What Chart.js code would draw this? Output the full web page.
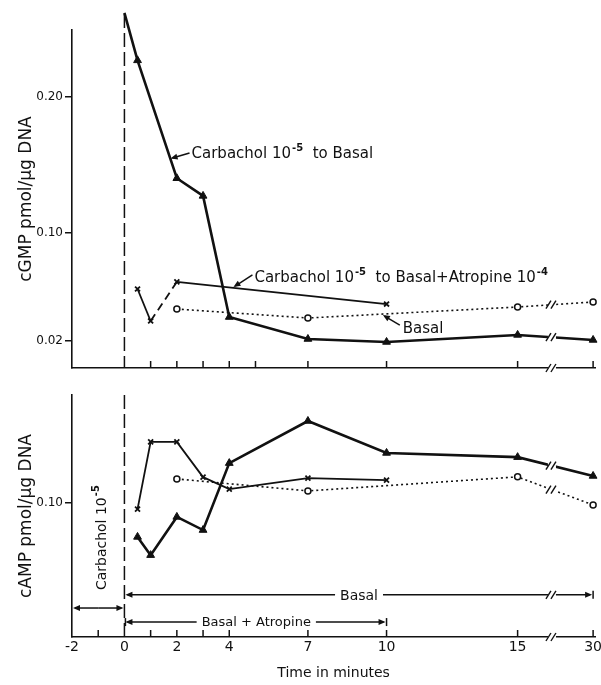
<!DOCTYPE html>
<html>
<head>
<meta charset="utf-8">
<title>cGMP and cAMP time course</title>
<script src="https://cdn.jsdelivr.net/npm/chart.js@4.4.1/dist/chart.umd.min.js"></script>
<style>
  html, body { margin: 0; padding: 0; background: #fff; }
  #wrap { position: relative; width: 601px; height: 685px; overflow: hidden; }
  #wrap canvas { position: absolute; left: 0; }
  #cgmp { top: 0; }
  #camp { top: 380px; }
</style>
</head>
<body>
<div id="wrap">
  <canvas id="cgmp" width="601" height="380"></canvas>
  <canvas id="camp" width="601" height="305"></canvas>
</div>
<script>
(() => {
  "use strict";

  // time axis (minutes)
  const timeTicks  = [-2, 0, 2, 4, 7, 10, 15, 30];
  const timeLabels = ["-2", "0", "2", "4", "7", "10", "15", "30"];
  const cgmpMarks  = [1, 2, 3, 4, 5, 7, 10, 15, 30];
  const campMarks  = [-1, 1, 2, 3, 4, 7, 10, 15, 30];

  // cGMP pmol/ug DNA
  const cgmpCarbT  = [0, 0.5, 2, 3, 4, 7, 10, 15, 30];
  const cgmpCarb   = [0.262, 0.227, 0.140, 0.127, 0.0376, 0.0214, 0.0192, 0.0244, 0.0207];
  const cgmpAtrT   = [0.5, 1, 2, 10];
  const cgmpAtr    = [0.0583, 0.0347, 0.0635, 0.0472];
  const cgmpBasalT = [2, 7, 15, 30];
  const cgmpBasal  = [0.0435, 0.0369, 0.0450, 0.0487];
  const cgmpYTicks = [0.02, 0.10, 0.20];

  // cAMP pmol/ug DNA
  const campCarbT  = [0.5, 1, 2, 3, 4, 7, 10, 15, 30];
  const campCarb   = [0.0885, 0.0824, 0.0952, 0.0908, 0.1132, 0.1273, 0.1166, 0.1152, 0.1089];
  const campAtrT   = [0.5, 1, 2, 3, 4, 7, 10];
  const campAtr    = [0.0978, 0.1203, 0.1203, 0.1085, 0.1045, 0.1082, 0.1075];
  const campBasalT = [2, 7, 15, 30];
  const campBasal  = [0.1079, 0.1039, 0.1086, 0.0992];
  const campYTicks = [0.10];

  const INK  = "#111";
  const FONT = "DejaVu Sans";
  const SUP  = "bold 10px " + FONT;

  Chart.defaults.font.family = FONT;
  Chart.defaults.color = INK;

  // axis is broken between 15 and 30 min
  const BREAK_AT = 15, TAIL = 30, TAIL_POS = 17.88, BREAK_POS = 16.31;
  const axisPos = (t) => t <= BREAK_AT ? t : BREAK_AT + (t - BREAK_AT) * (TAIL_POS - BREAK_AT) / (TAIL - BREAK_AT);
  const pts = (ts, vs) => ts.map((t, i) => ({ x: axisPos(t), y: vs[i] }));

  const X = (c, t) => c.scales.x.getPixelForValue(axisPos(t));
  const Y = (c, v) => c.scales.y.getPixelForValue(v);

  function line(ctx, x1, y1, x2, y2) {
    ctx.beginPath();
    ctx.moveTo(x1, y1);
    ctx.lineTo(x2, y2);
    ctx.stroke();
  }

  function arrow(ctx, x1, y1, x2, y2, len = 7, half = 3) {
    const a = Math.atan2(y2 - y1, x2 - x1);
    const cos = Math.cos(a), sin = Math.sin(a);
    line(ctx, x1, y1, x2 - cos * 2, y2 - sin * 2);
    ctx.beginPath();
    ctx.moveTo(x2, y2);
    ctx.lineTo(x2 - len * cos + half * sin, y2 - len * sin - half * cos);
    ctx.lineTo(x2 - len * cos - half * sin, y2 - len * sin + half * cos);
    ctx.closePath();
    ctx.fill();
  }

  // text with raised exponents: parts = [[text, isSup], ...]
  function rich(ctx, parts, x, y, size) {
    let cx = x;
    parts.forEach(([txt, sup]) => {
      ctx.font = sup ? SUP : size + "px " + FONT;
      ctx.fillText(txt, cx + (sup ? 1 : 0), sup ? y - 7 : y);
      cx += ctx.measureText(txt).width + (sup ? 1 : 0);
    });
    return cx - x;
  }

  function breakMark(ctx, x, y) {
    ctx.save();
    ctx.setLineDash([]);
    ctx.fillStyle = "#fff";
    ctx.fillRect(x - 4, y - 3, 8, 6);
    ctx.strokeStyle = INK;
    ctx.lineWidth = 1.4;
    line(ctx, x - 6, y + 4, x - 1, y - 4);
    line(ctx, x - 1, y + 4, x + 4, y - 4);
    ctx.restore();
  }

  function datasets(carb, atr, basal, atrDash) {
    return [
      {
        data: carb, borderColor: INK, backgroundColor: INK, borderWidth: 2.6,
        pointStyle: "triangle", pointRadius: 4.5, pointBorderWidth: 1, clip: false
      },
      {
        data: atr, borderColor: INK, backgroundColor: INK, borderWidth: 1.8,
        pointStyle: "crossRot", pointRadius: 3.5, pointBorderWidth: 1.8, clip: false,
        segment: { borderDash: (s) => atrDash(s.p0DataIndex) }
      },
      {
        data: basal, borderColor: INK, backgroundColor: "#fff", borderWidth: 1.6,
        borderDash: [2, 3], pointStyle: "circle", pointRadius: 3, pointBorderWidth: 1.5, clip: false
      }
    ];
  }

  function scales(o) {
    return {
      x: {
        type: "linear", min: -2, max: 17.96,
        afterBuildTicks: (s) => { s.ticks = timeTicks.map((t) => ({ value: axisPos(t) })); },
        afterFit: (s) => { s.height = o.xHeight; s.paddingLeft = 0; s.paddingRight = 0; },
        grid: { display: false, drawTicks: false },
        border: { display: true, color: INK, width: 1.6 },
        ticks: {
          display: o.xLabels, padding: 2, maxRotation: 0, autoSkip: false,
          font: { size: 14 }, callback: (v, i) => timeLabels[i]
        },
        title: { display: o.xLabels, text: "Time in minutes", font: { size: 14 }, padding: { top: 0, bottom: 3 } }
      },
      y: {
        type: "linear", min: o.yMin, max: o.yMax,
        afterBuildTicks: (s) => { s.ticks = o.yTicks.map((v) => ({ value: v })); },
        afterFit: (s) => { s.width = 72; s.paddingTop = 0; s.paddingBottom = 0; },
        grid: { display: true, drawOnChartArea: false, drawTicks: true, tickLength: 7, color: INK, lineWidth: 1.5 },
        border: { display: true, color: INK, width: 1.6 },
        ticks: { padding: 2, font: { size: 12 }, callback: (v) => Number(v).toFixed(2) },
        title: { display: true, text: o.yTitle, font: { size: 17 }, padding: { top: 16, bottom: 0 } }
      }
    };
  }

  // tick marks, t=0 dashed line, axis break and breaks on the lines
  function axisExtras(c, marks, dashTop) {
    const ctx = c.ctx, area = c.chartArea;
    ctx.save();
    ctx.strokeStyle = INK;
    ctx.fillStyle = INK;
    ctx.lineWidth = 1.5;
    marks.forEach((t) => { const x = X(c, t); line(ctx, x, area.bottom, x, area.bottom - 7); });

    ctx.setLineDash([14, 5]);
    line(ctx, X(c, 0), dashTop, X(c, 0), area.bottom);
    ctx.setLineDash([]);

    const bx = c.scales.x.getPixelForValue(BREAK_POS);
    breakMark(ctx, bx, area.bottom);
    c.data.datasets.forEach((ds, i) => {
      const el = c.getDatasetMeta(i).data;
      const n = el.length;
      if (ds.data[n - 1].x !== axisPos(TAIL)) return;
      const a = el[n - 2], b = el[n - 1];
      breakMark(ctx, bx, a.y + (b.y - a.y) * (bx - a.x) / (b.x - a.x));
    });
    ctx.restore();
  }

  // labelled arrows in the cGMP panel
  const cgmpNotes = [
    { t: 2.56, v: 0.155, tail: [-2, -5], tip: [1.76, 0.1545],
      parts: [["Carbachol 10", false], ["-5", true], ["  to Basal", false]] },
    { t: 4.96, v: 0.0635, tail: [-2, -7], tip: [4.16, 0.0597],
      parts: [["Carbachol 10", false], ["-5", true], ["  to Basal+Atropine 10", false], ["-4", true]] },
    { t: 10.62, v: 0.0258, tail: [-3, -8], tip: [9.86, 0.0391],
      parts: [["Basal", false]] }
  ];

  const cgmpPlugin = {
    id: "cgmpExtras",
    afterDatasetsDraw(c) {
      axisExtras(c, cgmpMarks, 14);
      const ctx = c.ctx;
      ctx.save();
      ctx.fillStyle = INK;
      ctx.strokeStyle = INK;
      ctx.lineWidth = 1.5;
      ctx.textBaseline = "alphabetic";
      cgmpNotes.forEach((n) => {
        const x = X(c, n.t), y = Y(c, n.v);
        rich(ctx, n.parts, x, y, 15);
        arrow(ctx, x + n.tail[0], y + n.tail[1], X(c, n.tip[0]), Y(c, n.tip[1]));
      });
      ctx.restore();
    }
  };

  // treatment periods under the cAMP curves
  const campPlugin = {
    id: "campExtras",
    afterDatasetsDraw(c) {
      const area = c.chartArea;
      axisExtras(c, campMarks, area.top);
      const ctx = c.ctx;
      ctx.save();
      ctx.fillStyle = INK;
      ctx.strokeStyle = INK;
      ctx.lineWidth = 1.5;

      // rotated label for the pre-incubation
      ctx.save();
      ctx.translate(X(c, -0.71), Y(c, 0.0707));
      ctx.rotate(-Math.PI / 2);
      rich(ctx, [["Carbachol 10", false], ["-5", true]], 0, 0, 14);
      ctx.restore();

      // double arrow -2 .. 0
      const x0 = X(c, 0), xm = X(c, -2);
      const yd = Y(c, 0.0647);
      arrow(ctx, (x0 + xm) / 2, yd, xm + 1, yd);
      arrow(ctx, (x0 + xm) / 2, yd, x0 - 1, yd);

      ctx.textAlign = "center";
      ctx.textBaseline = "middle";

      // Basal: 0 .. 30
      ctx.font = "14px " + FONT;
      const yb = Y(c, 0.0691);
      const xb = X(c, 8.95), wb = ctx.measureText("Basal").width / 2 + 5;
      const x30 = X(c, TAIL);
      ctx.fillText("Basal", xb, yb + 1);
      arrow(ctx, xb - wb, yb, x0 + 1, yb);
      arrow(ctx, xb + wb, yb, x30 - 1, yb);
      line(ctx, x30, yb - 4, x30, yb + 4);
      breakMark(ctx, c.scales.x.getPixelForValue(BREAK_POS), yb);

      // Basal + Atropine: 0 .. 10
      ctx.font = "13px " + FONT;
      const ya = Y(c, 0.0600);
      const xa = X(c, 5.03), wa = ctx.measureText("Basal + Atropine").width / 2 + 5;
      const x10 = X(c, 10);
      ctx.fillText("Basal + Atropine", xa, ya + 1);
      arrow(ctx, xa - wa, ya, x0 + 1, ya);
      arrow(ctx, xa + wa, ya, x10 - 1, ya);
      line(ctx, x10, ya - 4, x10, ya + 4);
      line(ctx, x0 + 1, ya - 4, x0 + 1, ya + 4);
      ctx.restore();
    }
  };

  const common = {
    responsive: false,
    animation: false,
    events: [],
    plugins: { legend: { display: false }, tooltip: { enabled: false } },
    elements: { line: { tension: 0 } }
  };

  new Chart(document.getElementById("cgmp"), {
    type: "line",
    data: {
      datasets: datasets(
        pts(cgmpCarbT, cgmpCarb),
        pts(cgmpAtrT, cgmpAtr),
        pts(cgmpBasalT, cgmpBasal),
        (i) => (i === 1 ? [8, 5] : undefined)
      )
    },
    options: {
      ...common,
      layout: { padding: { top: 30, right: 4, left: 0, bottom: 0 } },
      scales: scales({ xHeight: 12, xLabels: false, yMin: 0, yMax: 0.2494, yTicks: cgmpYTicks, yTitle: "cGMP pmol/\u03bcg DNA" })
    },
    plugins: [cgmpPlugin]
  });

  new Chart(document.getElementById("camp"), {
    type: "line",
    data: {
      datasets: datasets(
        pts(campCarbT, campCarb),
        pts(campAtrT, campAtr),
        pts(campBasalT, campBasal),
        () => undefined
      )
    },
    options: {
      ...common,
      layout: { padding: { top: 15, right: 4, left: 0, bottom: 0 } },
      scales: scales({ xHeight: 48, xLabels: true, yMin: 0.055, yMax: 0.136, yTicks: campYTicks, yTitle: "cAMP pmol/\u03bcg DNA" })
    },
    plugins: [campPlugin]
  });
})();
</script>
</body>
</html>
